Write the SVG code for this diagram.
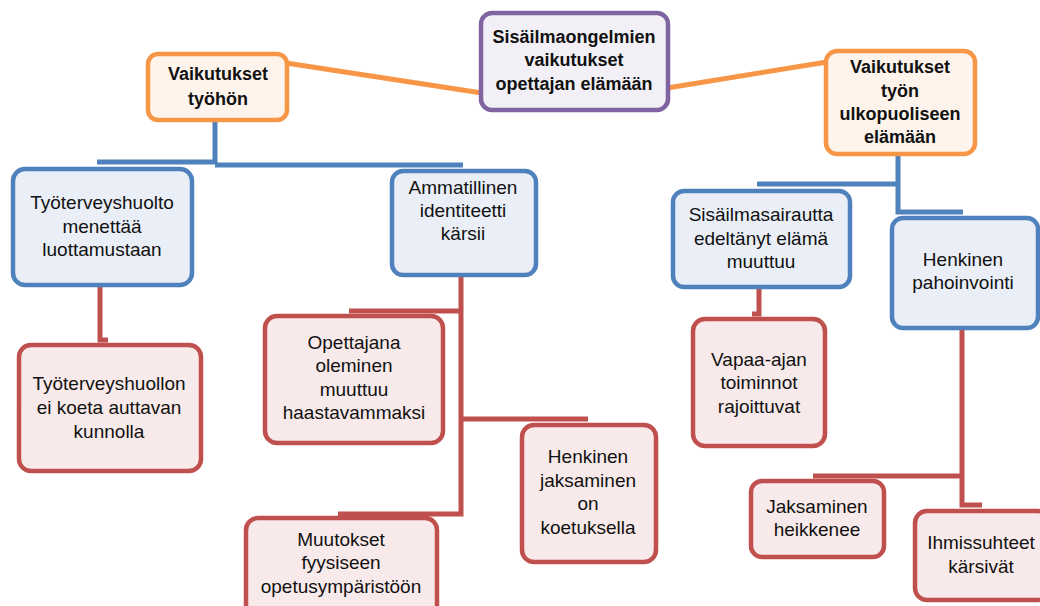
<svg xmlns="http://www.w3.org/2000/svg" width="1040" height="606" viewBox="0 0 1040 606">
<style>
.t{font-family:"Liberation Sans",Arial,sans-serif;font-size:19px;fill:#111;text-anchor:middle}
.b{font-weight:bold;font-size:18px}
.bx{stroke-width:4.5}
.blue{fill:#eaeff7;stroke:#4f81bd}
.red{fill:#f8eaea;stroke:#c0504d}
.org{fill:#fef4ec;stroke:#f79646}
.pur{fill:#f2f0f6;stroke:#8064a2}
.cb{stroke:#4f81bd;stroke-width:5;fill:none}
.cr{stroke:#c0504d;stroke-width:5;fill:none}
.co{stroke:#f79646;stroke-width:5;fill:none}
</style>
<rect width="1040" height="606" fill="#fff"/>
<g id="connectors">
<line class="co" x1="286" y1="63" x2="482" y2="93"/>
<line class="co" x1="667" y1="88" x2="827" y2="62"/>
<path class="cb" d="M215 118 V164 M97 162 H215 M215 165 H463"/>
<path class="cb" d="M898 153 V212 H963 M757 184 H898"/>
<path class="cr" d="M100 284 V340 H108"/>
<path class="cr" d="M461 274 V514 H338 M349 311 H461 M461 419 H588"/>
<path class="cr" d="M759 287 V314 H752"/>
<path class="cr" d="M962 327 V505 H982 M813 476 H962"/>
</g>
<g id="n_center">
<rect class="bx pur" x="481" y="13" width="187" height="97" rx="11"/>
<text class="t b" x="574" y="43">Sisäilmaongelmien</text>
<text class="t b" x="574" y="66">vaikutukset</text>
<text class="t b" x="574" y="90">opettajan elämään</text>
</g>
<g id="n_tyohon">
<rect class="bx org" x="148" y="54" width="139" height="66" rx="10"/>
<text class="t b" x="218" y="80">Vaikutukset</text>
<text class="t b" x="218" y="105">työhön</text>
</g>
<g id="n_ulko">
<rect class="bx org" x="826" y="51" width="149" height="103" rx="11"/>
<text class="t b" x="900" y="73">Vaikutukset</text>
<text class="t b" x="900" y="97">työn</text>
<text class="t b" x="900" y="120">ulkopuoliseen</text>
<text class="t b" x="900" y="143">elämään</text>
</g>
<g id="n_tth">
<rect class="bx blue" x="13" y="169" width="179" height="116" rx="12"/>
<text class="t" x="102" y="209">Työterveyshuolto</text>
<text class="t" x="102" y="233">menettää</text>
<text class="t" x="102" y="256">luottamustaan</text>
</g>
<g id="n_amm">
<rect class="bx blue" x="392" y="171" width="144" height="104" rx="11"/>
<text class="t" x="463" y="194">Ammatillinen</text>
<text class="t" x="463" y="217">identiteetti</text>
<text class="t" x="463" y="240">kärsii</text>
</g>
<g id="n_sis">
<rect class="bx blue" x="673" y="191" width="177" height="96" rx="11"/>
<text class="t" x="761" y="221">Sisäilmasairautta</text>
<text class="t" x="761" y="245">edeltänyt elämä</text>
<text class="t" x="761" y="268">muuttuu</text>
</g>
<g id="n_henk">
<rect class="bx blue" x="892" y="218" width="146" height="110" rx="11"/>
<text class="t" x="963" y="266">Henkinen</text>
<text class="t" x="963" y="289">pahoinvointi</text>
</g>
<g id="n_tthl">
<rect class="bx red" x="19" y="345" width="182" height="126" rx="12"/>
<text class="t" x="109" y="390">Työterveyshuollon</text>
<text class="t" x="109" y="414">ei koeta auttavan</text>
<text class="t" x="109" y="438">kunnolla</text>
</g>
<g id="n_opet">
<rect class="bx red" x="265" y="316" width="178" height="127" rx="12"/>
<text class="t" x="354" y="349">Opettajana</text>
<text class="t" x="354" y="372">oleminen</text>
<text class="t" x="354" y="396">muuttuu</text>
<text class="t" x="354" y="419">haastavammaksi</text>
</g>
<g id="n_hjak">
<rect class="bx red" x="522" y="425" width="134" height="137" rx="12"/>
<text class="t" x="588" y="463">Henkinen</text>
<text class="t" x="588" y="487">jaksaminen</text>
<text class="t" x="588" y="510">on</text>
<text class="t" x="588" y="534">koetuksella</text>
</g>
<g id="n_muut">
<rect class="bx red" x="246" y="518" width="191" height="100" rx="12"/>
<text class="t" x="341" y="546">Muutokset</text>
<text class="t" x="341" y="569">fyysiseen</text>
<text class="t" x="341" y="593">opetusympäristöön</text>
</g>
<g id="n_vapaa">
<rect class="bx red" x="693" y="319" width="132" height="127" rx="12"/>
<text class="t" x="759" y="366">Vapaa-ajan</text>
<text class="t" x="759" y="389">toiminnot</text>
<text class="t" x="759" y="413">rajoittuvat</text>
</g>
<g id="n_jak">
<rect class="bx red" x="751" y="481" width="133" height="76" rx="11"/>
<text class="t" x="817" y="513">Jaksaminen</text>
<text class="t" x="817" y="536">heikkenee</text>
</g>
<g id="n_ihm">
<rect class="bx red" x="915" y="511" width="135" height="89" rx="12"/>
<text class="t" x="981" y="549">Ihmissuhteet</text>
<text class="t" x="981" y="573">kärsivät</text>
</g>
</svg>
